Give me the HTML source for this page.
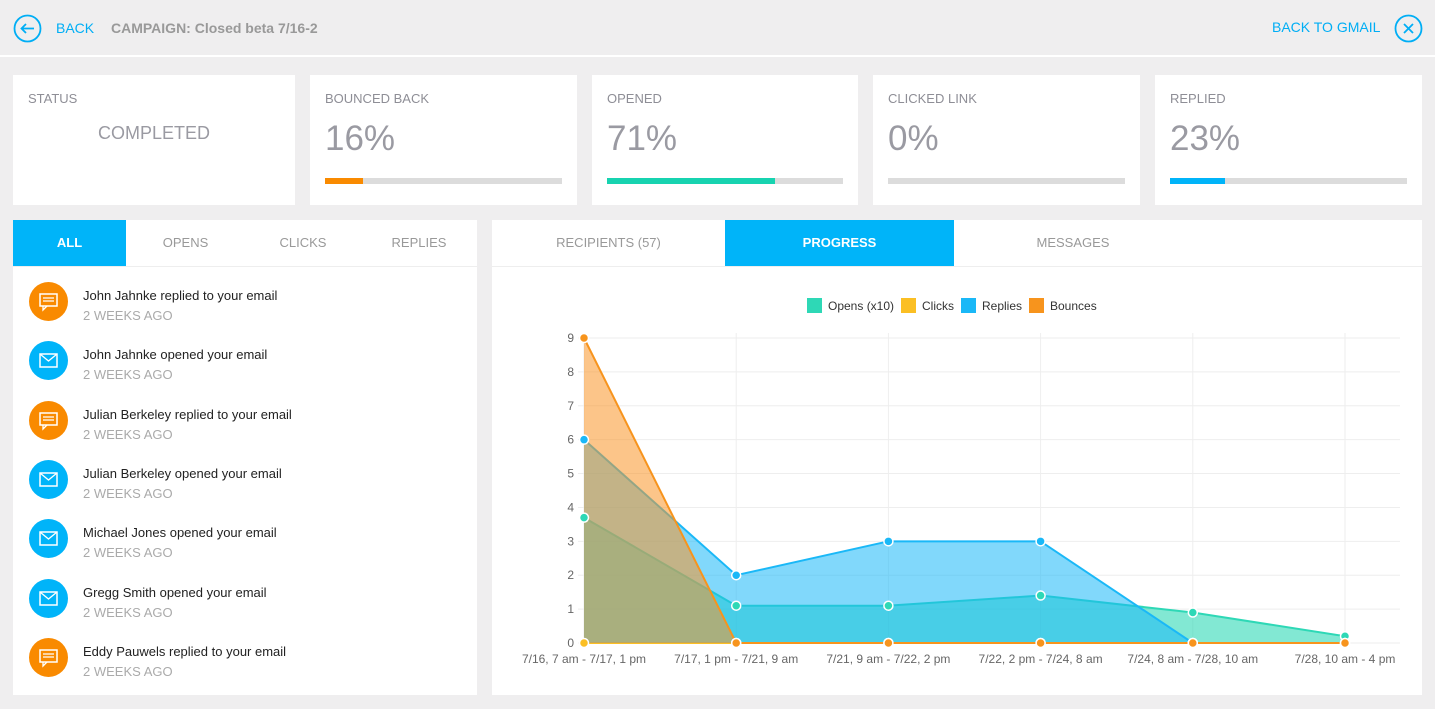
<!DOCTYPE html>
<html><head><meta charset="utf-8"><style>
*{box-sizing:border-box;margin:0;padding:0}
body{width:1435px;height:709px;background:#efeeef;font-family:"Liberation Sans",sans-serif;position:relative;overflow:hidden;color:#999}
.abs{position:absolute}
.card{position:absolute;top:75px;height:130px;background:#fff}
.card .t{position:absolute;left:15px;top:16px;font-size:13px;color:#8e8e96}
.card .v{position:absolute;left:15px;top:44px;font-size:35px;color:#9a9aa2}
.bar{position:absolute;left:15px;right:15px;top:103px;height:6px;background:#dcdcdc}
.bar i{display:block;height:6px}
.tab{position:absolute;top:0;height:46px;line-height:46px;text-align:center;font-size:13px;color:#999}
.tab.on{background:#00b4f9;color:#fff;font-weight:bold}
.item{position:absolute;left:16px;height:50px}
.ic{position:absolute;left:0;top:0;width:39px;height:39px;border-radius:50%}
.item .n{position:absolute;left:54px;top:6px;font-size:13px;color:#222;white-space:nowrap}
.item .d{position:absolute;left:54px;top:26px;font-size:13px;color:#aaa;white-space:nowrap}
</style></head><body>
<div class="abs" style="left:0;top:0;width:1435px;height:57px;border-bottom:2px solid #fff">
<svg class="abs" style="left:13px;top:14px" width="29" height="29"><circle cx="14.5" cy="14.5" r="13" fill="none" stroke="#00aef5" stroke-width="1.8"/><path d="M21 14.5H9M13 10l-4.5 4.5L13 19" fill="none" stroke="#00aef5" stroke-width="1.8"/></svg>
<div class="abs" style="left:56px;top:20px;font-size:14px;color:#00aef5">BACK</div>
<div class="abs" style="left:111px;top:20px;font-size:14px;color:#999;font-weight:bold">CAMPAIGN: Closed beta 7/16-2</div>
<div class="abs" style="left:1272px;top:19px;font-size:14px;color:#00aef5">BACK TO GMAIL</div>
<svg class="abs" style="left:1394px;top:14px" width="29" height="29"><circle cx="14.5" cy="14.5" r="13" fill="none" stroke="#00aef5" stroke-width="1.8"/><path d="M10 10l9 9M19 10l-9 9" stroke="#00aef5" stroke-width="1.8"/></svg>
</div>
<div class="card" style="left:13px;width:282px"><div class="t">STATUS</div><div class="abs" style="left:0;width:282px;top:48px;text-align:center;font-size:18px;color:#9a9aa2">COMPLETED</div></div>
<div class="card" style="left:310px;width:267px"><div class="t">BOUNCED BACK</div><div class="v">16%</div><div class="bar"><i style="width:16%;background:#f98a00"></i></div></div>
<div class="card" style="left:592px;width:266px"><div class="t">OPENED</div><div class="v">71%</div><div class="bar"><i style="width:71%;background:#17d3b0"></i></div></div>
<div class="card" style="left:873px;width:267px"><div class="t">CLICKED LINK</div><div class="v">0%</div><div class="bar"><i style="width:0"></i></div></div>
<div class="card" style="left:1155px;width:267px"><div class="t">REPLIED</div><div class="v">23%</div><div class="bar"><i style="width:23%;background:#00b4f9"></i></div></div>

<div class="abs" style="left:13px;top:220px;width:464px;height:475px;background:#fff">
<div class="abs" style="left:0;top:46px;width:464px;height:1px;background:#eee"></div>
<div class="tab on" style="left:0;width:113px">ALL</div>
<div class="tab" style="left:113px;width:119px">OPENS</div>
<div class="tab" style="left:232px;width:116px">CLICKS</div>
<div class="tab" style="left:348px;width:116px">REPLIES</div>
<div id="items"></div>
</div>

<div class="abs" style="left:492px;top:220px;width:930px;height:475px;background:#fff">
<div class="abs" style="left:0;top:46px;width:930px;height:1px;background:#eee"></div>
<div class="tab" style="left:0;width:233px">RECIPIENTS (57)</div>
<div class="tab on" style="left:233px;width:229px">PROGRESS</div>
<div class="tab" style="left:462px;width:238px">MESSAGES</div>
</div>
<svg id="chart" class="abs" style="left:0;top:0" width="1435" height="709"></svg>

<script>
const items=[["r","John Jahnke replied to your email"],["o","John Jahnke opened your email"],["r","Julian Berkeley replied to your email"],["o","Julian Berkeley opened your email"],["o","Michael Jones opened your email"],["o","Gregg Smith opened your email"],["r","Eddy Pauwels replied to your email"]];
const box=document.getElementById('items');
items.forEach((it,i)=>{
 const d=document.createElement('div');d.className='item';d.style.top=(62+i*59.3)+'px';
 
 
 const icon=it[0]=='r'?'<svg width="39" height="39"><rect x="11" y="12" width="17" height="12" fill="none" stroke="#fff" stroke-width="1.5"/><path d="M14 24v4l4-4M14 16h11M14 19h11" stroke="#fff" stroke-width="1.3" fill="none"/></svg>':'<svg width="39" height="39"><rect x="11" y="13" width="17" height="13" fill="none" stroke="#fff" stroke-width="1.5"/><path d="M11 13l8.5 7 8.5-7" stroke="#fff" stroke-width="1.3" fill="none"/></svg>';
 d.innerHTML='<div class="ic" style="background:'+(it[0]=='r'?'#f98a00':'#00b4f9')+'">'+icon+'</div><div class="n">'+it[1]+'</div><div class="d">2 WEEKS AGO</div>';
 box.appendChild(d);
});
</script>
<script>
const categories=["7/16, 7 am - 7/17, 1 pm","7/17, 1 pm - 7/21, 9 am","7/21, 9 am - 7/22, 2 pm","7/22, 2 pm - 7/24, 8 am","7/24, 8 am - 7/28, 10 am","7/28, 10 am - 4 pm"];
const opens=[3.7,1.1,1.1,1.4,0.9,0.2];
const clicks=[0,0,0,0,0,0];
const replies=[6,2,3,3,0,0];
const bounces=[9,0,0,0,0,0];
const yTicks=[0,1,2,3,4,5,6,7,8,9];
const NS='http://www.w3.org/2000/svg';
const svg=document.getElementById('chart');
const x0=584,x1=1345,yb=643,yt=338,ymax=9;
const X=i=>x0+i*(x1-x0)/(categories.length-1);
const Y=v=>yb-v*(yb-yt)/ymax;
function el(t,a,p){const e=document.createElementNS(NS,t);for(const k in a)e.setAttribute(k,a[k]);(p||svg).appendChild(e);return e;}
yTicks.forEach(v=>{
 const l=el('line',{x1:578,x2:1400,y1:Y(v),y2:Y(v),stroke:'#eee'});
 
 
 const t=el('text',{x:574,y:Y(v)+4,'text-anchor':'end','font-size':12,fill:'#666','font-family':'Liberation Sans'});t.textContent=v;
 
 
});
categories.forEach((c,i)=>{
 const l=el('line',{x1:X(i),x2:X(i),y1:yt-5,y2:yb+5,stroke:'#eee'});
 
 
 const t=el('text',{x:X(i),y:663,'text-anchor':'middle','font-size':12,fill:'#666','font-family':'Liberation Sans'});t.textContent=c;
 
 
});
const series=[["opens",opens,"#2ed8b6","rgba(46,216,182,0.6)"],["clicks",clicks,"#fbbf24","rgba(251,191,36,0.6)"],["replies",replies,"#1ab8f7","rgba(26,184,247,0.55)"],["bounces",bounces,"#f7941d","rgba(250,150,40,0.55)"]];
series.forEach(s=>{
 const pts=s[1].map((v,i)=>X(i)+','+Y(v)).join(' ');
 const a=el('polygon',{points:X(0)+','+yb+' '+pts+' '+X(s[1].length-1)+','+yb,fill:s[3]});
 
 
 const l=el('polyline',{points:pts,fill:'none',stroke:s[2],'stroke-width':2});
 
 
});
series.forEach(s=>{
 s[1].forEach((v,i)=>{
  const p=el('circle',{cx:X(i),cy:Y(v),r:4.5,fill:s[2],stroke:'#fff','stroke-width':1.5});
  
  
 });
});
const legend=[["Opens (x10)","#2ed8b6",807],["Clicks","#fbbf24",901],["Replies","#1ab8f7",961],["Bounces","#f7941d",1029]];
legend.forEach(L=>{
 const r=el('rect',{x:L[2],y:298,width:15,height:15,fill:L[1]});
 
 
 const t=el('text',{x:L[2]+21,y:310,'font-size':12,fill:'#333','font-family':'Liberation Sans'});t.textContent=L[0];
 
 
});
</script>
</body></html>
